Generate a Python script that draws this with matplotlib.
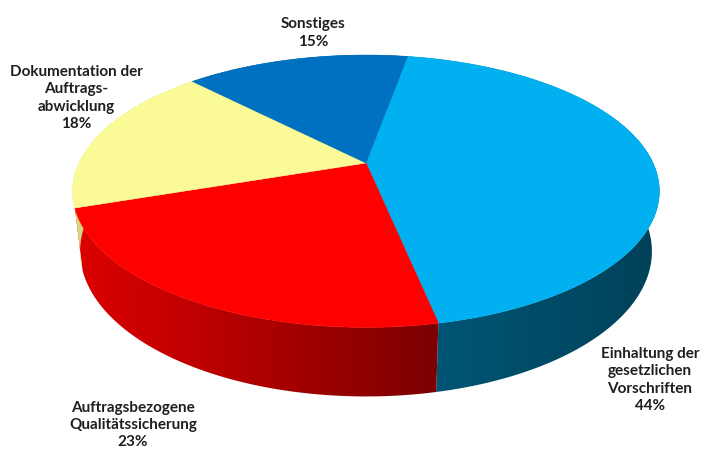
import numpy as np
import matplotlib

matplotlib.use("Agg")
import matplotlib.pyplot as plt
from matplotlib.patches import Polygon

# ── Data ────────────────────────────────────────────────────────────────────
labels = ["Einhaltung der\ngesetzlichen\nVorschriften",
          "Auftragsbezogene\nQualitätssicherung",
          "Dokumentation der\nAuftrags-\nabwicklung",
          "Sonstiges"]
shares = [44, 23, 18, 15]
colors = ["#00B0F0", "#FF0000", "#FAFA96", "#0070C0"]
# label anchor points (pixel coords of the 702x450 canvas)
label_xy = [(650, 380), (133, 425), (76, 98), (313, 33)]

# ── 3D pie geometry (simple pinhole projection of a tilted cylinder) ────────
CX, CY, RS = 366, 163, 287        # apex position and radius in pixels
PHI = np.radians(27)              # viewing elevation
DIST = 4.3                        # camera distance in radii
THICK = 0.237                     # cylinder height in radii
START = 80.0                      # first slice edge, degrees, clockwise
W, H = 702, 450


def project(t, y):
    X, Z = np.cos(t), np.sin(t)
    up = y * np.cos(PHI) + Z * np.sin(PHI)
    depth = DIST - y * np.sin(PHI) + Z * np.cos(PHI)
    k = DIST / depth
    return CX + RS * X * k, CY - RS * up * k


def shade(x):
    return np.interp(x, [70, 250, 430, 660], [0.87, 0.69, 0.49, 0.37])


fig = plt.figure(figsize=(W / 100, H / 100), dpi=100)
ax = fig.add_axes([0, 0, 1, 1])
ax.set_xlim(0, W)
ax.set_ylim(H, 0)
ax.axis("off")

edges = START - np.concatenate([[0], np.cumsum(shares)]) * 3.6
xgrid = np.arange(W) + 0.5
fac = shade(xgrid)

# side walls: one band per slice, filled with a left-to-right shading gradient
for i, col in enumerate(colors):
    ts = np.radians(np.linspace(edges[i], edges[i + 1], 300))
    xt, yt = project(ts, 0)
    xb, yb = project(ts, -THICK)
    pts = list(zip(xt, yt)) + list(zip(xb[::-1], yb[::-1]))
    poly = Polygon(pts, closed=True, facecolor="none", edgecolor="none")
    ax.add_patch(poly)
    rgb = np.array(matplotlib.colors.to_rgb(col))
    grad = np.tile((fac[:, None] * rgb)[None, :, :], (2, 1, 1))
    im = ax.imshow(grad, extent=(0, W, H, 0), aspect="auto",
                   interpolation="bilinear", zorder=1)
    im.set_clip_path(poly)

# top faces
for i, col in enumerate(colors):
    ts = np.radians(np.linspace(edges[i], edges[i + 1], 300))
    xs, ys = project(ts, 0)
    pts = [(CX, CY)] + list(zip(xs, ys))
    ax.add_patch(Polygon(pts, closed=True, facecolor=col, edgecolor=col,
                         lw=0.4, zorder=2))

for lab, val, (x, y) in zip(labels, shares, label_xy):
    ax.text(x, y, f"{lab}\n{val}%", ha="center", va="center", fontsize=11,
            fontweight="bold", family=["Lato", "DejaVu Sans"], color="#1F1F1F",
            linespacing=1.3)

ax.set_xlim(0, W)
ax.set_ylim(H, 0)
fig.savefig("out.png", dpi=100, facecolor="white")
